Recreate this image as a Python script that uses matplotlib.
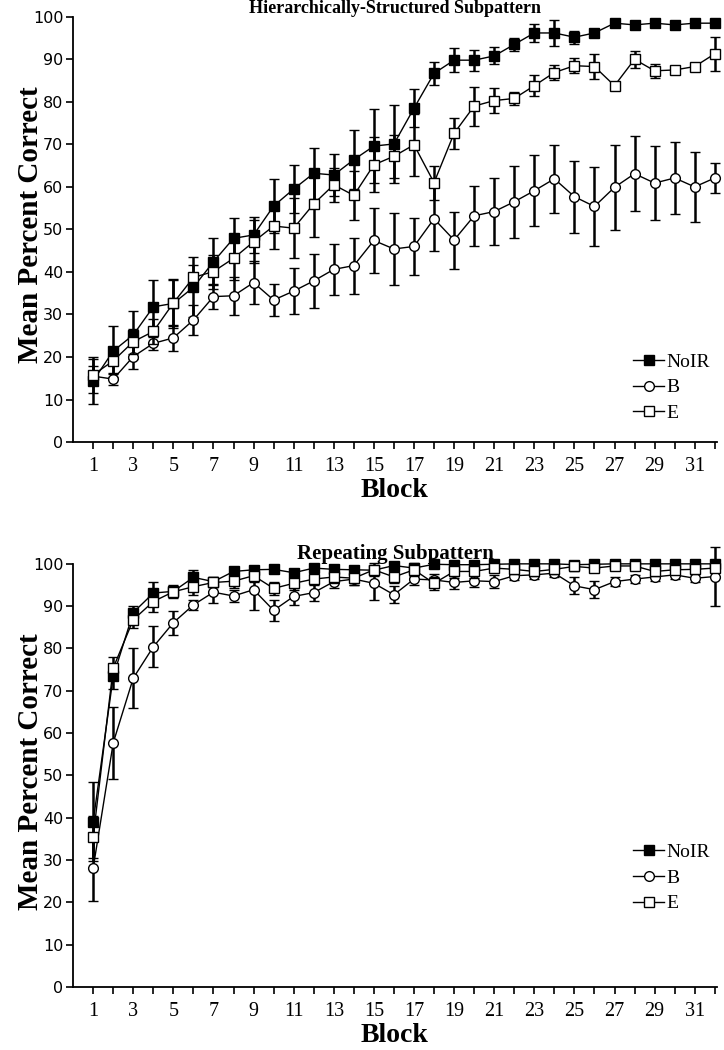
import matplotlib
matplotlib.use("Agg")
import matplotlib.pyplot as plt
from matplotlib.lines import Line2D
import numpy as np

# ── Data ──────────────────────────────────────────────────────────────────────

blocks = np.arange(1, 33)
group_names = ["NoIR", "B", "E"]

# Hierarchically-structured subpattern (top panel)
hier_noir = [14.4, 21.4, 25.2, 31.8, 32.6, 36.4, 42.4, 47.9, 48.7, 55.5,
             59.5, 63.2, 62.8, 66.4, 69.6, 70.1, 78.5, 86.7, 89.8, 89.8,
             90.8, 93.5, 96.2, 96.2, 95.2, 96.2, 98.5, 98.1, 98.5, 98.1,
             98.5, 98.5]
hier_noir_err = [5.5, 6.0, 5.7, 6.3, 5.8, 7.0, 5.5, 4.8, 4.3, 6.4,
                 5.7, 6.0, 5.0, 7.0, 8.7, 9.2, 4.5, 2.7, 2.8, 2.5,
                 2.0, 1.5, 2.1, 3.0, 1.5, 0.5, 0.4, 0.4, 0.4, 0.4,
                 0.4, 0.4]
hier_b = [15.5, 14.8, 20.1, 23.2, 24.5, 28.7, 34.2, 34.4, 37.5, 33.4,
          35.5, 37.9, 40.6, 41.5, 47.4, 45.4, 46.0, 52.5, 47.5, 53.2,
          54.2, 56.5, 59.1, 61.9, 57.7, 55.4, 59.9, 63.1, 60.9, 62.1,
          60.0, 62.1]
hier_b_err = [4.0, 1.5, 3.0, 1.5, 3.0, 3.5, 3.0, 4.5, 5.0, 3.8,
              5.5, 6.3, 6.0, 6.6, 7.7, 8.5, 6.7, 7.6, 6.7, 7.1,
              7.9, 8.5, 8.3, 8.0, 8.5, 9.2, 10.0, 8.8, 8.8, 8.5,
              8.2, 3.5]
hier_e = [15.8, 19.1, 23.6, 26.0, 32.7, 38.7, 40.1, 43.2, 47.1, 50.8,
          50.3, 56.0, 60.5, 58.0, 65.2, 67.2, 69.9, 61.0, 72.6, 79.0,
          80.3, 80.8, 83.8, 86.9, 88.5, 88.3, 83.8, 90.0, 87.3, 87.5,
          88.3, 91.3]
hier_e_err = [2.0, 3.0, 3.0, 3.0, 5.4, 3.0, 4.0, 5.0, 5.0, 5.5,
              7.0, 7.8, 4.0, 5.8, 6.5, 5.0, 7.3, 4.0, 3.6, 4.6,
              3.0, 1.5, 2.4, 1.8, 1.8, 3.0, 0.0, 2.0, 1.7, 0.5,
              0.5, 4.0]

# Repeating subpattern (bottom panel)
rep_noir = [39.1, 73.4, 88.5, 93.1, 93.5, 96.8, 95.8, 98.2, 98.6, 98.7,
            97.9, 99.0, 98.7, 98.6, 98.5, 99.6, 99.0, 99.9, 99.8, 99.8,
            99.9, 100.0, 100.0, 100.0, 99.8, 99.9, 100.0, 100.0, 100.0, 100.0,
            100.0, 100.0]
rep_noir_err = [9.3, 3.0, 1.5, 2.6, 1.0, 1.8, 1.0, 1.0, 0.8, 0.8,
                0.8, 0.8, 0.8, 0.8, 0.8, 0.6, 0.6, 0.5, 0.5, 0.5,
                0.5, 0.5, 0.5, 0.5, 0.5, 0.5, 0.5, 0.5, 0.5, 0.5,
                0.5, 0.5]
rep_b = [28.1, 57.7, 73.0, 80.4, 86.1, 90.3, 93.3, 92.4, 93.9, 89.0,
         92.3, 93.2, 95.8, 96.4, 95.4, 92.7, 96.4, 96.2, 95.6, 96.0,
         95.8, 97.2, 97.4, 97.8, 94.8, 93.9, 95.8, 96.4, 96.9, 97.4,
         96.6, 97.0]
rep_b_err = [7.8, 8.5, 7.0, 4.8, 2.8, 1.2, 2.5, 1.5, 4.8, 2.5,
             2.0, 2.0, 1.5, 1.5, 4.0, 2.0, 1.5, 1.5, 1.5, 1.5,
             1.5, 1.0, 1.0, 1.0, 2.0, 2.0, 1.0, 1.0, 1.0, 1.0,
             1.0, 7.0]
rep_e = [35.5, 75.4, 86.8, 91.1, 93.4, 94.6, 95.6, 95.9, 97.2, 94.2,
         95.4, 96.4, 96.9, 96.6, 98.6, 96.9, 98.6, 95.4, 98.2, 98.2,
         99.0, 98.7, 98.2, 98.7, 99.4, 99.0, 99.5, 99.5, 98.2, 98.6,
         98.7, 99.0]
rep_e_err = [5.0, 2.5, 2.0, 2.5, 1.5, 2.0, 1.0, 1.5, 1.5, 1.5,
             1.5, 1.5, 1.5, 1.5, 1.5, 1.5, 1.5, 1.5, 1.5, 1.5,
             1.0, 1.0, 1.0, 1.0, 1.0, 1.0, 1.0, 1.0, 1.0, 1.0,
             1.0, 1.0]

SERIF = "Liberation Serif"
SANS = "DejaVu Sans"

# marker style per group: (marker, facecolor)
STYLES = {
    "NoIR": ("s", "black"),
    "B": ("o", "white"),
    "E": ("s", "white"),
}


# ── Plotting ──────────────────────────────────────────────────────────────────

def draw_panel(ax, title, title_size, title_pad, series, legend_anchor):
    """Draw one panel: three groups with error bars, styled like the paper."""
    for z, (name, vals, errs) in enumerate(series):
        marker, face = STYLES[name]
        cont = ax.errorbar(blocks, vals, yerr=errs, color="black", lw=1.0,
                           marker=marker, markersize=7,
                           markerfacecolor=face, markeredgecolor="black",
                           markeredgewidth=1.0, ecolor="black",
                           elinewidth=1.8, capsize=3.5, capthick=1.8,
                           zorder=3 + z)
        for art in cont.get_children():
            art.set_clip_on(False)

    ax.set_xlim(0, 32.1)
    ax.set_ylim(0, 100)
    ax.set_xticks(blocks)
    ax.set_xticklabels([str(b) if b % 2 else "" for b in blocks],
                       family=SERIF, fontsize=14.5)
    ax.set_yticks(np.arange(0, 101, 10))
    ax.set_yticklabels([str(v) for v in range(0, 101, 10)],
                       family=SANS, fontsize=11.5)
    ax.tick_params(axis="both", direction="out", length=5, width=1.2,
                   color="black")
    ax.tick_params(axis="x", pad=6)
    ax.tick_params(axis="y", pad=2)
    for side in ("top", "right"):
        ax.spines[side].set_visible(False)
    for side in ("left", "bottom"):
        ax.spines[side].set_linewidth(1.3)

    ax.set_title(title, family=SERIF, fontweight="bold", fontsize=title_size,
                 pad=title_pad)
    ax.set_xlabel("Block", family=SERIF, fontweight="bold", fontsize=20,
                  labelpad=1)
    ax.set_ylabel("Mean Percent Correct", family=SERIF, fontweight="bold",
                  fontsize=21)
    # label sits close to the two-digit tick labels, as in the original
    ax.yaxis.set_label_coords(-0.045, 0.51)

    handles = []
    for name in group_names:
        marker, face = STYLES[name]
        handles.append(Line2D([], [], color="black", lw=1.0, marker=marker,
                              markersize=7, markerfacecolor=face,
                              markeredgecolor="black"))
    ax.legend(handles, group_names, loc="center left",
              bbox_to_anchor=legend_anchor, frameon=False,
              handlelength=1.6, handletextpad=0.1, labelspacing=0.42,
              borderpad=0, prop={"family": SERIF, "size": 14})


def main():
    fig = plt.figure(figsize=(7.24, 10.5), dpi=100)
    ax_top = fig.add_axes([0.101, 0.579, 0.889, 0.405])
    ax_bot = fig.add_axes([0.101, 0.060, 0.889, 0.403])

    draw_panel(ax_top, "Hierarchically-Structured Subpattern", 13, 0,
               [("NoIR", hier_noir, hier_noir_err),
                ("B", hier_b, hier_b_err),
                ("E", hier_e, hier_e_err)],
               legend_anchor=(0.855, 0.128))
    draw_panel(ax_bot, "Repeating Subpattern", 15, 3,
               [("NoIR", rep_noir, rep_noir_err),
                ("B", rep_b, rep_b_err),
                ("E", rep_e, rep_e_err)],
               legend_anchor=(0.855, 0.258))

    fig.savefig("out.png", dpi=100, facecolor="white")
    plt.close(fig)


if __name__ == "__main__":
    main()
